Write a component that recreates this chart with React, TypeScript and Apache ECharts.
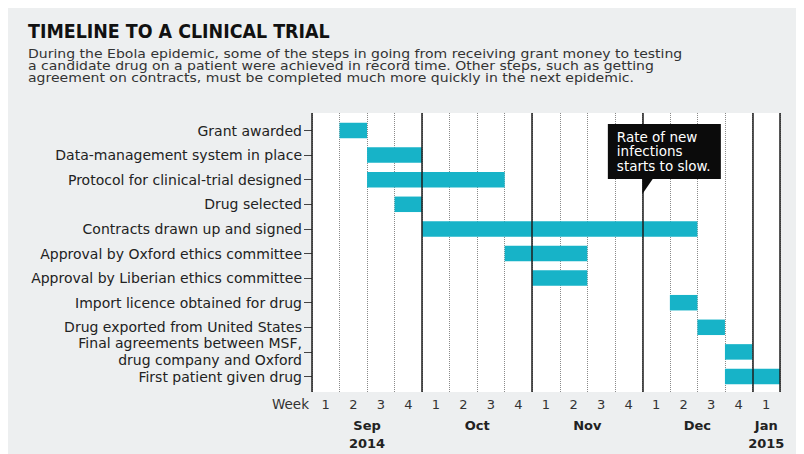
import React, { useEffect, useRef } from 'react';
import * as echarts from 'echarts';

const TITLE = 'TIMELINE TO A CLINICAL TRIAL';
const SUBTITLE = [
  'During the Ebola epidemic, some of the steps in going from receiving grant money to testing',
  'a candidate drug on a patient were achieved in record time. Other steps, such as getting',
  'agreement on contracts, must be completed much more quickly in the next epidemic.',
];

const tasks = [
  'Grant awarded',
  'Data-management system in place',
  'Protocol for clinical-trial designed',
  'Drug selected',
  'Contracts drawn up and signed',
  'Approval by Oxford ethics committee',
  'Approval by Liberian ethics committee',
  'Import licence obtained for drug',
  'Drug exported from United States',
  'Final agreements between MSF,\ndrug company and Oxford',
  'First patient given drug',
];
// week index (0 = start of week 1 of Sep 2014)
const startWeek = [1, 2, 2, 3, 4, 7, 8, 13, 14, 15, 15];
const endWeek = [2, 4, 7, 4, 14, 10, 10, 14, 15, 16, 17];

const weekLabels = ['1', '2', '3', '4', '1', '2', '3', '4', '1', '2', '3', '4', '1', '2', '3', '4', '1'];
const monthNames = ['Sep', 'Oct', 'Nov', 'Dec', 'Jan'];
const monthCenters = [2, 6, 10, 14, 16.5];
const yearLabels = ['2014', '', '', '', '2015'];
const monthStarts = [0, 4, 8, 12, 16, 17];
const TOTAL_WEEKS = 17;

const annotationWeek = 12;
const annotationLines = ['Rate of new', 'infections', 'starts to slow.'];

const FONT = 'DejaVu Sans';
const BAR = '#17b3c8';

export default function App() {
  const ref = useRef<HTMLDivElement>(null);
  useEffect(() => {
    const chart = echarts.init(ref.current!, undefined, { renderer: 'svg' });
    const option: any = {
      animation: false,
      backgroundColor: '#edeff0',
      grid: [
        { left: 304, top: 105, width: 468, height: 279, show: true, backgroundColor: '#ffffff', borderWidth: 0 },
        { left: 304, top: 110.2, width: 468, height: 270.6 },
      ],
      xAxis: [
        {
          gridIndex: 0, type: 'value', position: 'bottom', min: 0, max: TOTAL_WEEKS, interval: 1,
          axisLine: { show: false }, axisTick: { show: false }, axisLabel: { show: false },
          splitLine: { show: true, lineStyle: { color: '#8a8a8a', type: 'dotted', width: 1 } },
        },
        {
          gridIndex: 0, type: 'value', position: 'bottom', min: 0, max: TOTAL_WEEKS * 2, interval: 1, offset: 12,
          axisLine: { show: false }, axisTick: { show: false }, splitLine: { show: false },
          axisLabel: {
            margin: 0, verticalAlign: 'middle', fontFamily: FONT, fontSize: 13, color: '#333',
            formatter: (v: number) => (Math.round(v) % 2 === 1 ? weekLabels[(Math.round(v) - 1) / 2] : ''),
          },
          name: 'Week', nameLocation: 'start', nameGap: 3,
          nameTextStyle: { fontFamily: FONT, fontSize: 13.5, color: '#333', verticalAlign: 'middle', align: 'right' },
        },
        {
          gridIndex: 0, type: 'value', position: 'bottom', min: 0, max: TOTAL_WEEKS * 2, interval: 1, offset: 24,
          axisLine: { show: false }, axisTick: { show: false }, splitLine: { show: false },
          axisLabel: {
            margin: 0, verticalAlign: 'top', fontFamily: FONT, fontSize: 13, fontWeight: 'bold', color: '#222', lineHeight: 18,
            formatter: (v: number) => {
              const i = monthCenters.findIndex((c) => Math.round(c * 2) === Math.round(v));
              if (i < 0) return '';
              return yearLabels[i] ? monthNames[i] + '\n' + yearLabels[i] : monthNames[i];
            },
          },
        },
        { gridIndex: 1, type: 'value', position: 'bottom', min: 0, max: TOTAL_WEEKS, show: false },
      ],
      yAxis: [
        { gridIndex: 0, type: 'value', min: 0, max: 1, show: false },
        {
          gridIndex: 1, type: 'category', data: tasks, inverse: true,
          axisLine: { show: false },
          axisTick: { show: true, alignWithLabel: true, length: 8, lineStyle: { color: '#444' } },
          axisLabel: { interval: 0, margin: 10, fontFamily: FONT, fontSize: 14, color: '#222', lineHeight: 17 },
          splitLine: { show: false },
        },
      ],
      series: [
        {
          type: 'custom', xAxisIndex: 3, yAxisIndex: 1, z: 3,
          data: tasks.map((_, i) => [i, startWeek[i], endWeek[i]]),
          encode: { x: [1, 2], y: 0 },
          renderItem: (params: any, api: any) => {
            const row = api.value(0);
            const s = api.coord([api.value(1), row]);
            const e = api.coord([api.value(2), row]);
            const h = api.size([0, 1])[1] * 0.63;
            return { type: 'rect', shape: { x: s[0], y: s[1] - h / 2, width: e[0] - s[0], height: h }, style: { fill: BAR } };
          },
        },
        {
          type: 'line', xAxisIndex: 0, yAxisIndex: 0, z: 10, silent: true,
          data: [[0, 0]], showSymbol: false, symbol: 'none', lineStyle: { opacity: 0 },
          markLine: {
            silent: true, symbol: 'none', label: { show: false },
            lineStyle: { color: '#1e1e1e', width: 1.5, type: 'solid' },
            data: monthStarts.map((x) => ({ xAxis: x })),
          },
        },
      ],
    };
    chart.setOption(option);
    const ax = chart.convertToPixel({ xAxisIndex: 0 }, annotationWeek) as number;
    chart.setOption({
      graphic: [
        {
          type: 'text', x: 20, y: 23.5, scaleX: 0.97,
          style: { text: TITLE, fill: '#111', font: 'bold 20px "DejaVu Sans Condensed"', verticalAlign: 'middle', align: 'left' },
        },
        ...SUBTITLE.map((line, i) => ({
          type: 'text', x: 20, y: 46 + i * 11.8, scaleX: 1.17,
          style: { text: line, fill: '#333', font: '12px "DejaVu Sans"', verticalAlign: 'middle', align: 'left' },
        })),
        { type: 'rect', z: 100, shape: { x: ax - 34.5, y: 116, width: 113, height: 55 }, style: { fill: '#0b0b0b' } },
        { type: 'polygon', z: 100, shape: { points: [[ax, 170], [ax, 186], [ax + 11, 170]] }, style: { fill: '#0b0b0b' } },
        {
          type: 'text', z: 101, x: ax - 25.5, y: 121.5,
          style: { text: annotationLines.join('\n'), fill: '#ffffff', font: '13.5px "DejaVu Sans"', lineHeight: 14.5, verticalAlign: 'top' },
        },
      ],
    });
    return () => chart.dispose();
  }, []);
  return <div ref={ref} style={{ width: 796, height: 446 }} />;
}
